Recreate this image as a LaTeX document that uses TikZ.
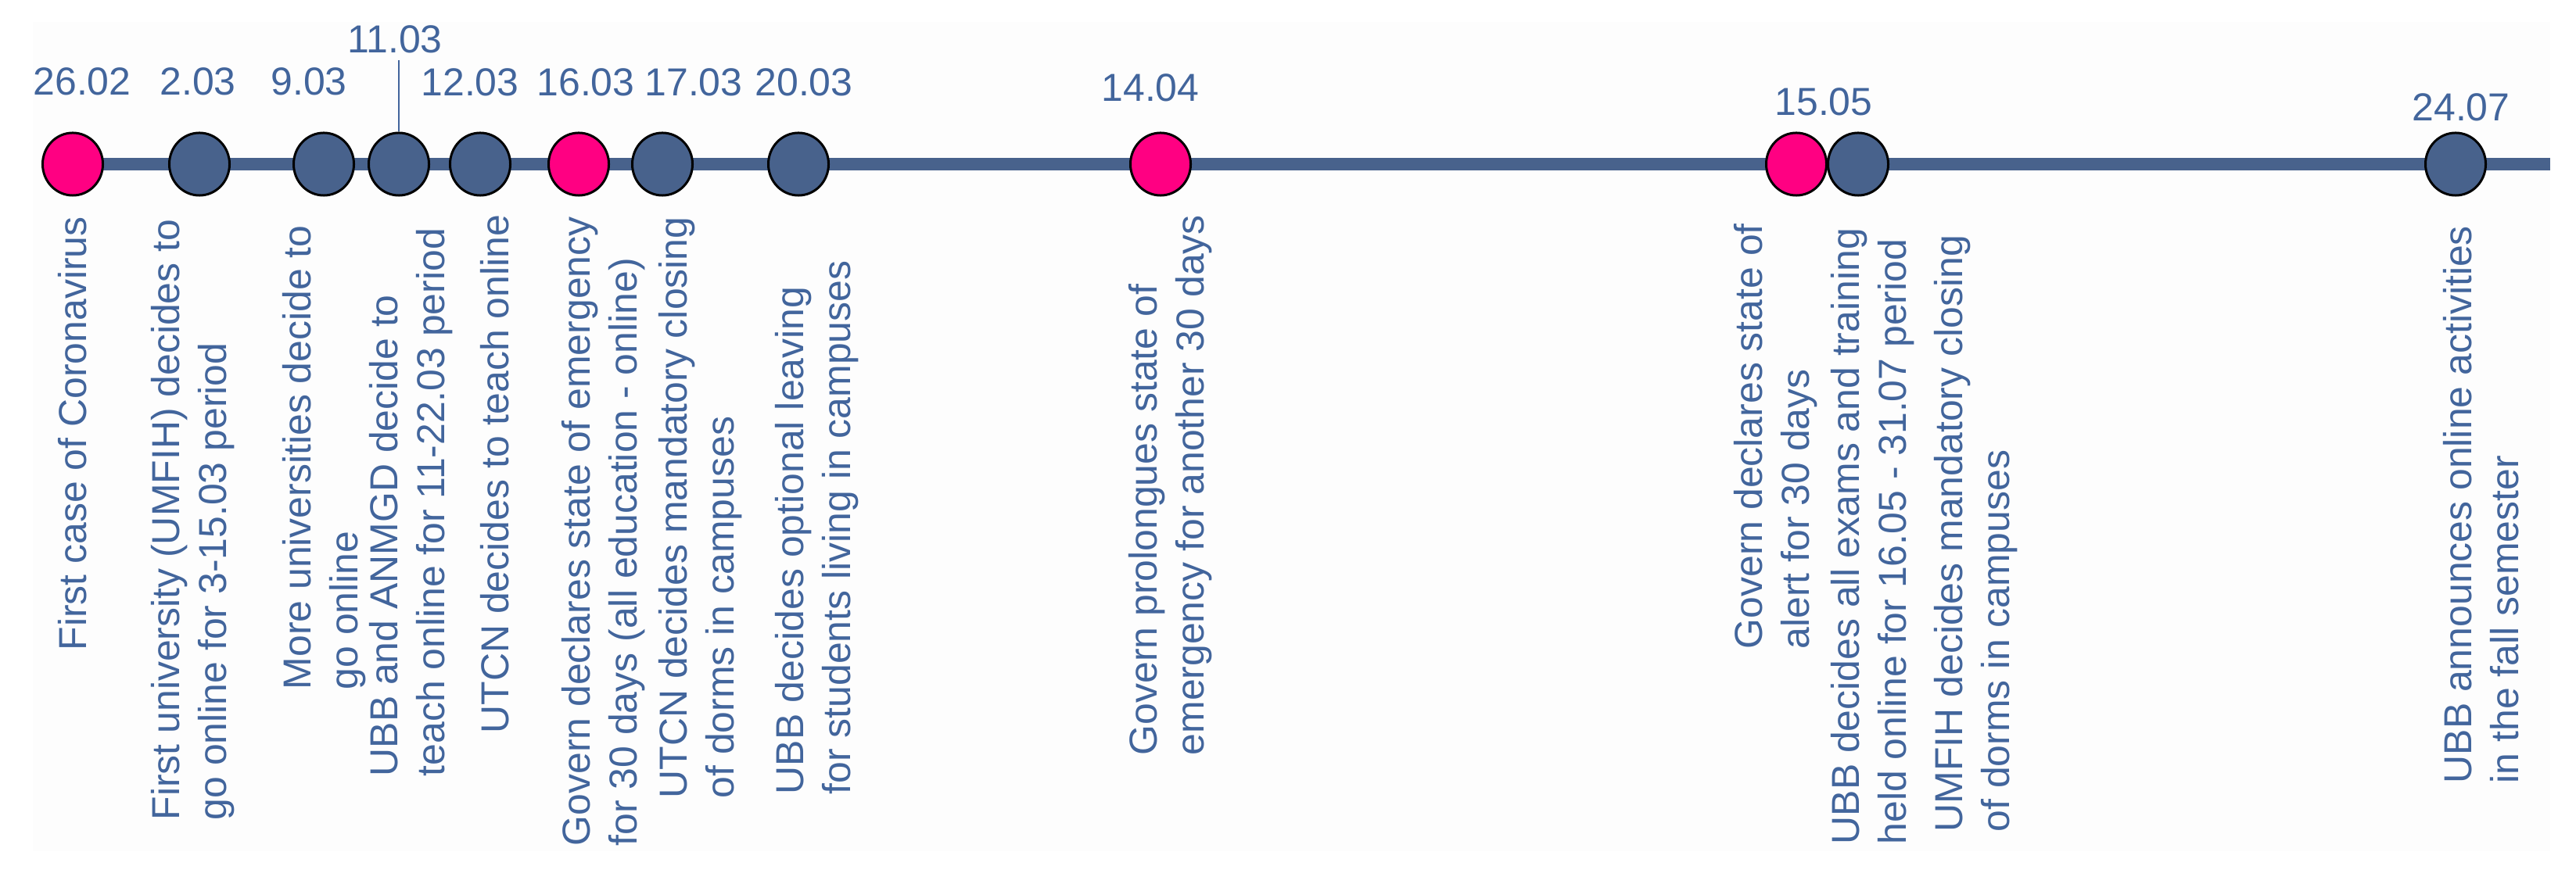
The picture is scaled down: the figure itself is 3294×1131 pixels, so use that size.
\documentclass[tikz,border=0pt]{standalone}
\usepackage{fontspec}
\setmainfont{Liberation Sans}
\usetikzlibrary{shapes.geometric}
\definecolor{tlblue}{RGB}{72,98,140}
\definecolor{txtblue}{RGB}{66,101,156}
\definecolor{evpink}{RGB}{255,0,130}
\definecolor{bgfaint}{RGB}{253,253,253}
\tikzset{
  evt/.style={ellipse, draw=black, line width=0.85pt, minimum width=0.77cm, minimum height=0.80cm, inner sep=0pt},
  bluev/.style={evt, fill=tlblue},
  pinkv/.style={evt, fill=evpink},
  datelbl/.style={text=txtblue, inner sep=0pt, font=\fontsize{14.2pt}{17pt}\selectfont},
  desc/.style={text=txtblue, inner sep=0pt, rotate=90, anchor=west, align=left, font=\fontsize{14.2pt}{17.07pt}\selectfont},
  tlline/.style={draw=tlblue, line width=4.27pt},
  tickline/.style={draw=txtblue, line width=0.8pt}
}
\begin{document}
\begin{tikzpicture}[x=0.01cm, y=-0.01cm]
\useasboundingbox (0,0) rectangle (3294,1131);
\fill[bgfaint] (42,28) rectangle (3261,1089);
\coordinate (tlstart) at (93,210);
\coordinate (tlend) at (3261,210);
\draw[tlline] (tlstart) -- (tlend);
% events
\node[pinkv] (c1) at (93,210) {};
\node[bluev] (c2) at (255,210) {};
\node[bluev] (c3) at (414,210) {};
\node[bluev] (c4) at (510,210) {};
\node[bluev] (c5) at (614,210) {};
\node[pinkv] (c6) at (740,210) {};
\node[bluev] (c7) at (847,210) {};
\node[bluev] (c8) at (1021,210) {};
\node[pinkv] (c9) at (1484,210) {};
\node[pinkv] (c10) at (2297,210) {};
\node[bluev] (c11) at (2376,210) {};
\node[bluev] (c12) at (3140,210) {};
% dates
\node[datelbl] (d1) at (105,104) {26.02};
\node[datelbl] (d2) at (253,104) {2.03};
\node[datelbl] (d3) at (395,104) {9.03};
\node[datelbl] (d4) at (505,50) {11.03};
\node[datelbl] (d5) at (601,105) {12.03};
\node[datelbl] (d6) at (749,105) {16.03};
\node[datelbl] (d7) at (887,105) {17.03};
\node[datelbl] (d8) at (1028,105) {20.03};
\node[datelbl] (d9) at (1471,112) {14.04};
\node[datelbl] (d10) at (2332,130) {15.05};
\node[datelbl] (d11) at (3147,137) {24.07};
\coordinate (tick4) at (510,77);
\draw[tickline] (tick4) -- (c4.north);
% descriptions
\node[desc] (t1) at (93,833) {First case of Coronavirus};
\node[desc] (t2) at (247,1050) {First university (UMFIH) decides to\\go online for 3-15.03 period};
\node[desc] (t3) at (415,883) {More universities decide to\\go online};
\node[desc] (t4) at (526,994) {UBB and ANMGD decide to\\teach online for 11-22.03 period};
\node[desc] (t5) at (633,939) {UTCN decides to teach online};
\node[desc] (t6) at (772,1083) {Govern declares state of emergency\\for 30 days (all education - online)};
\node[desc] (t7) at (896,1022) {UTCN decides mandatory closing\\of dorms in campuses};
\node[desc] (t8) at (1045,1017) {UBB decides optional leaving\\for students living in campuses};
\node[desc] (t9) at (1497,967) {Govern prolongues state of\\emergency for another 30 days};
\node[desc] (t10) at (2271,831) {Govern declares state of\\alert for 30 days};
\node[desc] (t11) at (2395,1081) {UBB decides all exams and training\\held online for 16.05 - 31.07 period};
\node[desc] (t12) at (2527,1065) {UMFIH decides mandatory closing\\of dorms in campuses};
\node[desc] (t13) at (3173,1003) {UBB announces online activities\\in the fall semester};
\end{tikzpicture}
\end{document}
